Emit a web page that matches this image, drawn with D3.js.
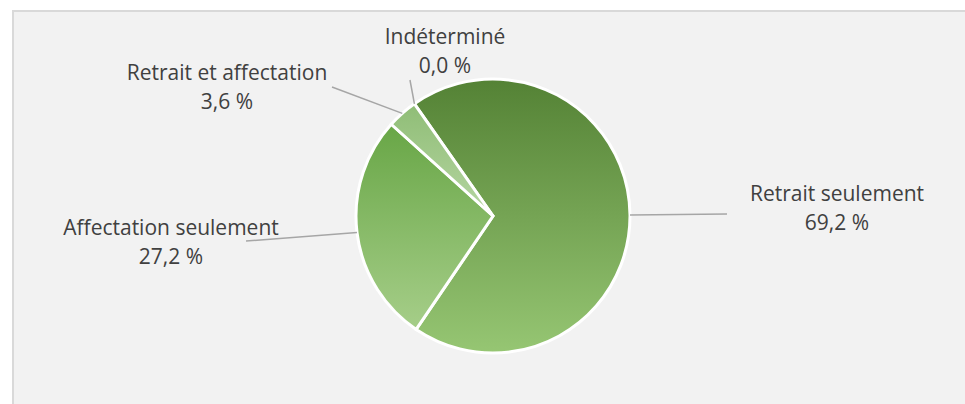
<!DOCTYPE html>
<html>
<head>
<meta charset="utf-8">
<script src="https://cdn.jsdelivr.net/npm/d3@7"></script>
<style>
  body { margin: 0; background: #fff; }
  svg { display: block; }
</style>
</head>
<body>
<svg id="chart" width="965" height="404"></svg>
<script>
let categories = ["Retrait seulement", "Affectation seulement", "Retrait et affectation", "Indéterminé"];
let values = [69.2, 27.2, 3.6, 0.0];
let topColors = ["#548235", "#68a646", "#8fbd76", "#8fbd76"];
let bottomColors = ["#96c673", "#a6ce89", "#b6d6a2", "#b6d6a2"];

// label anchors: [centre x, first baseline] and end of leader line
let labelPos = [[837, 201], [171, 235], [227, 80], [445, 44]];
let leaderEnd = [[727, 214], [246, 241], [332, 87], [410, 80]];

let svg = d3.select("#chart");
let width = +svg.attr("width");
let height = +svg.attr("height");

svg.append("rect")
  .attr("x", 13)
  .attr("y", 11)
  .attr("width", width)
  .attr("height", height)
  .attr("fill", "#f2f2f2")
  .attr("stroke", "#d9d9d9")
  .attr("stroke-width", 2);

let cx = 493, cy = 216, r = 137;
let start = -35 * Math.PI / 180;

let pie = d3.pie().sort(null).value(d => d)
  .startAngle(start).endAngle(start + 2 * Math.PI);
let arcs = pie(values);
let arc = d3.arc().innerRadius(0).outerRadius(r);

let defs = svg.append("defs");
arcs.forEach((a, i) => {
  let g = defs.append("linearGradient")
    .attr("id", "grad" + i)
    .attr("x1", 0).attr("y1", 0).attr("x2", 0).attr("y2", 1);
  g.append("stop").attr("offset", "0%").attr("stop-color", topColors[i]);
  g.append("stop").attr("offset", "100%").attr("stop-color", bottomColors[i]);
});

let pieG = svg.append("g").attr("transform", `translate(${cx},${cy})`);

pieG.selectAll("path")
  .data(arcs.filter(a => a.value > 0))
  .enter()
  .append("path")
  .attr("d", arc)
  .attr("fill", d => `url(#grad${d.index})`)
  .attr("stroke", "white")
  .attr("stroke-width", 3)
  .attr("stroke-linejoin", "miter");

// leader lines from the outer edge at mid angle
pieG.selectAll("line.leader")
  .data(arcs)
  .enter()
  .append("line")
  .attr("class", "leader")
  .attr("x1", d => Math.sin((d.startAngle + d.endAngle) / 2) * r)
  .attr("y1", d => -Math.cos((d.startAngle + d.endAngle) / 2) * r)
  .attr("x2", (d, i) => leaderEnd[i][0] - cx)
  .attr("y2", (d, i) => leaderEnd[i][1] - cy)
  .attr("stroke", "#a6a6a6")
  .attr("stroke-width", 1.5);

let fmt = v => d3.format(".1f")(v).replace(".", ",") + " %";

let labels = svg.append("g")
  .style("font-family", "'Open Sans', sans-serif")
  .style("font-size", "21px")
  .attr("fill", "#404040")
  .attr("text-anchor", "middle");

categories.forEach((c, i) => {
  let t = labels.append("text")
    .attr("x", labelPos[i][0])
    .attr("y", labelPos[i][1]);
  t.append("tspan").attr("x", labelPos[i][0]).text(c);
  t.append("tspan").attr("x", labelPos[i][0]).attr("dy", 28.5).text(fmt(values[i]));
});
</script>
</body>
</html>
